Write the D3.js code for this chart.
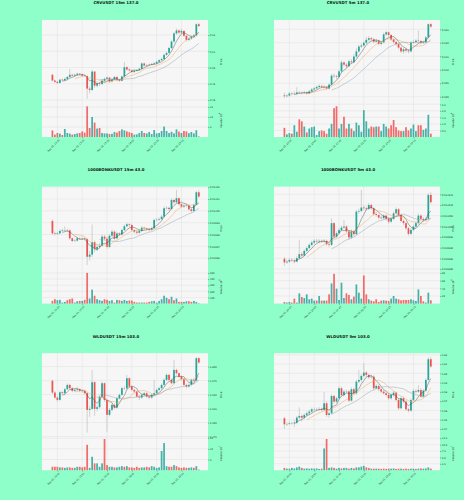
<!DOCTYPE html>
<html>
<head>
<meta charset="utf-8">
<script src="https://cdn.jsdelivr.net/npm/d3@7"></script>
<style>
  body { margin: 0; background: #8effc8; }
  text { font-family: "DejaVu Sans", sans-serif; }
</style>
</head>
<body>
<svg id="chart" width="464" height="500"></svg>
<script>
// ---- data ----
const xTickIdx = [2, 12, 22, 32, 42, 52];
const xLabels15m = ['Dec 03, 10:30', 'Dec 03, 13:00', 'Dec 03, 15:30', 'Dec 03, 18:00', 'Dec 03, 20:30', 'Dec 03, 23:00'];
const xLabels5m = ['Dec 03, 20:00', 'Dec 03, 20:50', 'Dec 03, 21:40', 'Dec 03, 22:30', 'Dec 03, 23:20', 'Dec 04, 00:10'];
const maPeriods = [5, 10, 20];

// CRVUSDT 15m
const crv15Open0 = 0.4955;
const crv15Close = [0.4920,0.4912,0.4905,0.4925,0.4922,0.4930,0.4942,0.4955,0.4950,0.4955,
  0.4962,0.4958,0.4950,0.4948,0.4870,0.4862,0.4975,0.4888,0.4902,0.4898,
  0.4918,0.4930,0.4938,0.4915,0.4925,0.4942,0.4925,0.4918,0.4945,0.5002,
  0.4988,0.4982,0.4972,0.4980,0.4985,0.4992,0.5025,0.5012,0.5015,0.5018,
  0.5022,0.5026,0.5035,0.5045,0.5052,0.5078,0.5090,0.5120,0.5160,0.5210,
  0.5228,0.5215,0.5225,0.5195,0.5170,0.5178,0.5190,0.5198,0.5266,0.5255];
const crv15High = [0.4962,0.4925,0.4918,0.4930,0.4932,0.4938,0.4948,0.4992,0.4962,0.4962,
  0.4968,0.4966,0.4962,0.4956,0.4952,0.4885,0.4985,0.4978,0.4915,0.4910,
  0.4925,0.4938,0.4945,0.4942,0.4932,0.4948,0.4946,0.4930,0.4950,0.5035,
  0.5008,0.4995,0.4988,0.4986,0.4992,0.4998,0.5032,0.5030,0.5022,0.5024,
  0.5028,0.5032,0.5042,0.5052,0.5060,0.5085,0.5098,0.5128,0.5168,0.5218,
  0.5240,0.5235,0.5238,0.5230,0.5200,0.5188,0.5196,0.5206,0.5272,0.5275];
const crv15Low = [0.4915,0.4905,0.4900,0.4902,0.4915,0.4918,0.4926,0.4938,0.4945,0.4945,
  0.4950,0.4952,0.4944,0.4942,0.4808,0.4840,0.4855,0.4875,0.4878,0.4885,
  0.4892,0.4912,0.4925,0.4908,0.4910,0.4920,0.4918,0.4912,0.4915,0.4940,
  0.4980,0.4975,0.4965,0.4968,0.4975,0.4980,0.4988,0.5005,0.5006,0.5010,
  0.5012,0.5016,0.5020,0.5030,0.5040,0.5048,0.5072,0.5085,0.5115,0.5152,
  0.5202,0.5205,0.5208,0.5188,0.5160,0.5162,0.5170,0.5182,0.5192,0.5250];
const crv15Vol = [3.3,1.2,2.0,1.7,1.0,4.0,2.0,1.7,1.2,1.5,
  1.8,2.0,2.8,2.2,15.3,4.5,10.0,7.2,4.2,4.5,
  2.0,1.8,1.8,1.5,1.6,2.5,2.2,3.0,3.8,3.3,
  2.8,2.4,2.0,1.2,1.3,2.0,3.0,2.0,1.8,2.5,
  1.5,3.5,1.8,2.0,3.0,5.2,3.0,2.0,2.6,1.8,
  3.8,2.7,2.0,3.0,2.8,1.9,2.5,1.8,3.4,0.3];

// CRVUSDT 5m
const crv5Open0 = 0.5005;
const crv5Close = [0.5002,0.5004,0.5012,0.5010,0.5011,0.5016,0.5015,0.5014,0.5016,0.5012,
  0.5020,0.5027,0.5031,0.5036,0.5040,0.5037,0.5035,0.5030,0.5045,0.5078,
  0.5076,0.5074,0.5094,0.5127,0.5119,0.5113,0.5131,0.5128,0.5149,0.5168,
  0.5186,0.5190,0.5200,0.5211,0.5217,0.5213,0.5204,0.5208,0.5196,0.5201,
  0.5231,0.5239,0.5229,0.5212,0.5203,0.5195,0.5182,0.5168,0.5176,0.5171,
  0.5168,0.5201,0.5203,0.5208,0.5206,0.5200,0.5202,0.5220,0.5269,0.5260];
const crv5High = [0.5015,0.5010,0.5018,0.5016,0.5020,0.5035,0.5022,0.5020,0.5022,0.5020,
  0.5026,0.5032,0.5036,0.5042,0.5046,0.5045,0.5042,0.5040,0.5050,0.5085,
  0.5086,0.5082,0.5100,0.5135,0.5132,0.5125,0.5138,0.5140,0.5158,0.5180,
  0.5192,0.5198,0.5206,0.5222,0.5225,0.5222,0.5218,0.5214,0.5212,0.5206,
  0.5238,0.5244,0.5242,0.5232,0.5216,0.5208,0.5198,0.5186,0.5182,0.5182,
  0.5176,0.5206,0.5210,0.5214,0.5245,0.5210,0.5208,0.5226,0.5272,0.5274];
const crv5Low = [0.4995,0.4998,0.5000,0.5005,0.5006,0.5008,0.5010,0.5008,0.5010,0.5008,
  0.5010,0.5016,0.5024,0.5028,0.5032,0.5032,0.5030,0.5026,0.5027,0.5042,
  0.5070,0.5066,0.5070,0.5090,0.5112,0.5106,0.5110,0.5122,0.5124,0.5144,
  0.5162,0.5180,0.5185,0.5195,0.5206,0.5206,0.5198,0.5200,0.5190,0.5190,
  0.5198,0.5226,0.5222,0.5206,0.5196,0.5188,0.5176,0.5162,0.5160,0.5164,
  0.5160,0.5164,0.5196,0.5198,0.5200,0.5194,0.5196,0.5198,0.5216,0.5255];
const crv5Vol = [0.7,0.2,0.3,0.25,0.9,0.4,1.35,1.2,0.8,0.35,
  0.65,0.75,0.8,0.15,0.45,0.5,0.45,0.25,0.65,1.0,
  2.2,2.35,0.65,1.0,1.55,0.65,1.0,0.65,0.45,1.1,
  0.9,0.4,2.05,1.2,0.65,0.8,0.75,0.8,0.8,0.45,
  1.0,0.8,0.65,0.9,1.3,0.75,0.5,0.45,0.45,0.75,
  0.5,0.65,0.95,0.45,0.9,0.9,0.55,0.65,1.7,0.25];

// 1000BONKUSDT 15m
const bonk15Open0 = 0.0109914;
const bonk15Close = [0.0109810,0.0109805,0.0109810,0.0109830,0.0109835,0.0109838,0.0109835,0.0109768,0.0109745,0.0109748,
  0.0109768,0.0109765,0.0109768,0.0109762,0.0109612,0.0109630,0.0109735,0.0109675,0.0109695,0.0109705,
  0.0109782,0.0109765,0.0109695,0.0109790,0.0109824,0.0109768,0.0109810,0.0109800,0.0109838,0.0109870,
  0.0109886,0.0109880,0.0109838,0.0109824,0.0109815,0.0109830,0.0109858,0.0109852,0.0109845,0.0109838,
  0.0109852,0.0109923,0.0109925,0.0109930,0.0109951,0.0110022,0.0110025,0.0110015,0.0110092,0.0110073,
  0.0110107,0.0110056,0.0110036,0.0110044,0.0110044,0.0110013,0.0109999,0.0110050,0.0110157,0.0110121];
const bonk15High = [0.0109930,0.0109825,0.0109825,0.0109845,0.0109850,0.0109870,0.0109850,0.0109845,0.0109775,0.0109760,
  0.0109780,0.0109778,0.0109780,0.0109775,0.0109770,0.0109660,0.0109886,0.0109750,0.0109720,0.0109730,
  0.0109800,0.0109795,0.0109780,0.0109805,0.0109840,0.0109835,0.0109825,0.0109820,0.0109850,0.0109885,
  0.0109900,0.0109895,0.0109890,0.0109845,0.0109835,0.0109845,0.0109870,0.0109865,0.0109860,0.0109855,
  0.0109865,0.0109935,0.0109940,0.0109945,0.0109970,0.0110035,0.0110040,0.0110035,0.0110105,0.0110100,
  0.0110177,0.0110115,0.0110065,0.0110055,0.0110060,0.0110055,0.0110025,0.0110065,0.0110170,0.0110175];
const bonk15Low = [0.0109795,0.0109790,0.0109795,0.0109800,0.0109820,0.0109825,0.0109820,0.0109755,0.0109735,0.0109735,
  0.0109740,0.0109755,0.0109755,0.0109750,0.0109542,0.0109580,0.0109610,0.0109650,0.0109660,0.0109680,
  0.0109695,0.0109750,0.0109680,0.0109685,0.0109780,0.0109755,0.0109760,0.0109785,0.0109790,0.0109830,
  0.0109860,0.0109865,0.0109825,0.0109810,0.0109800,0.0109805,0.0109820,0.0109840,0.0109835,0.0109825,
  0.0109830,0.0109845,0.0109910,0.0109915,0.0109920,0.0109945,0.0110010,0.0110000,0.0110010,0.0110060,
  0.0110065,0.0110045,0.0110025,0.0110025,0.0110030,0.0110000,0.0109985,0.0109990,0.0110045,0.0110110];
const bonk15Vol = [44,72,56,61,17,28,56,72,83,17,
  39,44,44,61,500,83,228,128,72,56,
  44,72,61,44,56,17,61,56,44,61,
  44,50,50,28,17,17,17,17,17,28,
  39,44,17,44,72,128,94,72,111,56,
  83,28,28,28,39,39,28,44,28,6];

// 1000BONKUSDT 5m
const bonk5Open0 = 0.0109848;
const bonk5Close = [0.0109831,0.0109835,0.0109843,0.0109840,0.0109835,0.0109851,0.0109870,0.0109863,0.0109885,0.0109898,
  0.0109913,0.0109924,0.0109932,0.0109929,0.0109932,0.0109929,0.0109932,0.0109916,0.0109913,0.0110015,
  0.0109952,0.0109968,0.0109983,0.0109994,0.0109999,0.0109976,0.0109948,0.0109976,0.0109963,0.0110069,
  0.0110072,0.0110088,0.0110085,0.0110082,0.0110100,0.0110085,0.0110057,0.0110053,0.0110041,0.0110038,
  0.0110050,0.0110035,0.0110022,0.0110035,0.0110061,0.0110080,0.0110053,0.0110025,0.0110015,0.0109991,
  0.0109965,0.0109983,0.0109999,0.0110015,0.0110050,0.0110035,0.0110030,0.0110035,0.0110147,0.0110113];
const bonk5High = [0.0109856,0.0109843,0.0109850,0.0109851,0.0109848,0.0109860,0.0109937,0.0109880,0.0109893,0.0109906,
  0.0109921,0.0109933,0.0109940,0.0109941,0.0109940,0.0109939,0.0109940,0.0109938,0.0109923,0.0110038,
  0.0110020,0.0109976,0.0109992,0.0110003,0.0110030,0.0110006,0.0109982,0.0109985,0.0109983,0.0110078,
  0.0110083,0.0110170,0.0110097,0.0110094,0.0110110,0.0110106,0.0110090,0.0110064,0.0110060,0.0110049,
  0.0110058,0.0110056,0.0110042,0.0110044,0.0110070,0.0110089,0.0110086,0.0110060,0.0110033,0.0110021,
  0.0109998,0.0109991,0.0110008,0.0110024,0.0110059,0.0110057,0.0110043,0.0110044,0.0110156,0.0110160];
const bonk5Low = [0.0109815,0.0109824,0.0109828,0.0109832,0.0109826,0.0109830,0.0109845,0.0109854,0.0109859,0.0109878,
  0.0109892,0.0109906,0.0109918,0.0109922,0.0109921,0.0109922,0.0109923,0.0109909,0.0109902,0.0109908,
  0.0109945,0.0109946,0.0109962,0.0109976,0.0109988,0.0109969,0.0109937,0.0109940,0.0109954,0.0109958,
  0.0110060,0.0110065,0.0110076,0.0110073,0.0110076,0.0110077,0.0110050,0.0110045,0.0110033,0.0110029,
  0.0110031,0.0110027,0.0110012,0.0110015,0.0110029,0.0110054,0.0110046,0.0110018,0.0110006,0.0109982,
  0.0109956,0.0109958,0.0109976,0.0109992,0.0110008,0.0110026,0.0110021,0.0110022,0.0110029,0.0110105];
const bonk5Vol = [4.3,2.6,4.3,2.6,13,2.6,26.8,17.3,14.7,24.2,
  11.3,13,7.8,7.8,19.9,7.8,7.8,7.8,24.2,52.8,
  77.9,39,9.5,54.6,14.7,26.8,22.5,11.3,18.2,50.2,
  28.6,13,73.6,24.2,11.3,7.8,6.1,11.3,4.3,7.8,
  8.7,7.8,6.9,13,19.9,13,11.3,8.7,9.5,9.5,
  9.5,11.3,8.7,6.9,37.2,19.9,6.1,2.6,28.6,8.7];

// WLDUSDT 15m
const wld15Open0 = 2.5745;
const wld15Close = [2.5536,2.5447,2.5405,2.5542,2.5525,2.5596,2.5673,2.5614,2.5566,2.5584,
  2.5596,2.5566,2.5560,2.5525,2.5227,2.5245,2.5721,2.5245,2.5275,2.5465,
  2.5703,2.5405,2.5138,2.5227,2.5316,2.5269,2.5435,2.5495,2.5614,2.5610,
  2.5792,2.5643,2.5584,2.5554,2.5465,2.5447,2.5495,2.5525,2.5465,2.5447,
  2.5495,2.5525,2.5584,2.5614,2.5673,2.5763,2.5852,2.5763,2.5703,2.5941,
  2.5882,2.5822,2.5774,2.5673,2.5643,2.5673,2.5763,2.5750,2.6149,2.6072];
const wld15High = [2.5770,2.5560,2.5470,2.5570,2.5565,2.5620,2.5700,2.5690,2.5640,2.5610,
  2.5640,2.5615,2.5590,2.5580,2.5545,2.5290,2.5941,2.5740,2.5310,2.5490,
  2.5730,2.5720,2.5430,2.5260,2.5340,2.5345,2.5460,2.5520,2.5640,2.5650,
  2.5852,2.5810,2.5665,2.5605,2.5575,2.5490,2.5520,2.5550,2.5545,2.5490,
  2.5520,2.5763,2.5610,2.5640,2.5700,2.5790,2.5880,2.5870,2.5790,2.6120,
  2.5960,2.5900,2.5840,2.5795,2.5700,2.5700,2.5790,2.5800,2.6170,2.6170];
const wld15Low = [2.5510,2.5420,2.5370,2.5390,2.5500,2.5510,2.5580,2.5590,2.5540,2.5545,
  2.5560,2.5540,2.5535,2.5500,2.4822,2.5100,2.5220,2.5120,2.5200,2.5250,
  2.5440,2.5370,2.4840,2.5110,2.5200,2.5240,2.5250,2.5410,2.5480,2.5580,
  2.5590,2.5620,2.5560,2.5530,2.5440,2.5400,2.5420,2.5470,2.5440,2.5420,
  2.5425,2.5470,2.5500,2.5560,2.5590,2.5650,2.5740,2.5740,2.5680,2.5690,
  2.5860,2.5800,2.5750,2.5650,2.5610,2.5620,2.5650,2.5725,2.5730,2.6050];
const wld15Vol = [1.6,1.6,1.6,1.3,1.3,1.1,1.3,1.3,1.1,1.1,
  1.6,1.6,1.3,1.6,11.9,1.1,6.3,3.2,3.2,1.6,
  3.2,14.6,2.4,1.6,1.6,1.3,1.3,1.6,1.9,1.6,
  1.9,1.3,1.3,1.1,1.6,1.1,1.3,1.3,1.6,1.3,
  1.9,1.6,1.1,1.3,9.0,12.7,1.9,1.6,1.6,2.4,
  1.9,1.3,1.1,1.3,1.1,1.1,1.3,1.1,1.9,0.3];

// WLDUSDT 5m
const wld5Open0 = 2.5515;
const wld5Close = [2.5450,2.5454,2.5461,2.5461,2.5468,2.5522,2.5540,2.5522,2.5551,2.5569,
  2.5587,2.5612,2.5612,2.5614,2.5616,2.5605,2.5677,2.5551,2.5569,2.5756,
  2.5695,2.5731,2.5839,2.5767,2.5803,2.5805,2.5706,2.5829,2.5785,2.5911,
  2.5929,2.5973,2.6009,2.5983,2.5958,2.5965,2.5839,2.5865,2.5829,2.5803,
  2.5785,2.5767,2.5731,2.5767,2.5792,2.5713,2.5623,2.5731,2.5695,2.5612,
  2.5598,2.5713,2.5810,2.5803,2.5821,2.5749,2.5814,2.5929,2.6153,2.6074];
const wld5High = [2.5530,2.5470,2.5480,2.5480,2.5500,2.5540,2.5634,2.5560,2.5570,2.5590,
  2.5610,2.5630,2.5630,2.5630,2.5635,2.5630,2.5800,2.5700,2.5590,2.5775,
  2.5770,2.5750,2.5860,2.5855,2.5820,2.5825,2.5820,2.5850,2.5845,2.5930,
  2.6038,2.5990,2.6110,2.6025,2.6000,2.5985,2.5980,2.5885,2.5880,2.5845,
  2.5820,2.5800,2.5785,2.5785,2.5810,2.5805,2.5730,2.5750,2.5750,2.5710,
  2.5630,2.5730,2.5830,2.5830,2.5870,2.5840,2.5830,2.5950,2.6175,2.6175];
const wld5Low = [2.5400,2.5430,2.5440,2.5445,2.5420,2.5450,2.5505,2.5480,2.5505,2.5535,
  2.5550,2.5575,2.5595,2.5598,2.5600,2.5590,2.5590,2.5530,2.5520,2.5555,
  2.5675,2.5680,2.5720,2.5750,2.5750,2.5785,2.5690,2.5695,2.5770,2.5770,
  2.5895,2.5910,2.5960,2.5965,2.5940,2.5945,2.5820,2.5825,2.5810,2.5785,
  2.5770,2.5750,2.5715,2.5715,2.5750,2.5695,2.5605,2.5610,2.5680,2.5595,
  2.5580,2.5585,2.5700,2.5785,2.5790,2.5735,2.5735,2.5800,2.5915,2.6060];
const wld5Vol = [0.9,0.6,0.6,0.9,0.7,1.1,1.4,0.9,0.6,0.7,
  0.6,0.7,0.6,0.7,0.5,0.6,8.5,12.2,0.9,1.1,
  0.9,0.6,0.9,0.7,0.9,0.9,0.6,0.9,0.7,1.1,
  1.1,1.4,1.7,1.1,0.9,0.6,0.6,0.6,0.6,0.5,
  0.6,0.5,0.6,0.6,0.7,0.5,0.6,0.6,0.5,0.6,
  0.5,0.6,0.6,0.5,0.6,0.7,0.6,0.7,1.1,0.6];

// panel setup (axes limits / ticks as shown in the reference)
const panels = [
  { title: 'CRVUSDT 15m 137.0', col: 0, row: 0, open0: crv15Open0, close: crv15Close, high: crv15High, low: crv15Low, vol: crv15Vol,
    yDomain: [0.47785, 0.52923], yTicks: [0.48, 0.49, 0.50, 0.51, 0.52], yFmt: '.2f',
    vDomain: [0, 16.75], vTicks: [5, 10, 15], vFmt: 'd', vExp: '6', xLabels: xLabels15m },
  { title: 'CRVUSDT 5m 137.0', col: 1, row: 0, open0: crv5Open0, close: crv5Close, high: crv5High, low: crv5Low, vol: crv5Vol,
    yDomain: [0.49748, 0.52845], yTicks: [0.500, 0.505, 0.510, 0.515, 0.520, 0.525], yFmt: '.3f',
    vDomain: [0, 2.56], vTicks: [0.5, 1.0, 1.5, 2.0, 2.5], vFmt: '.1f', vExp: '6', xLabels: xLabels5m },
  { title: '1000BONKUSDT 15m 43.0', col: 0, row: 1, open0: bonk15Open0, close: bonk15Close, high: bonk15High, low: bonk15Low, vol: bonk15Vol,
    yDomain: [0.0109499, 0.0110205], yTicks: [0.01096, 0.01097, 0.01098, 0.01099, 0.01100, 0.01101, 0.01102], yFmt: '.5f',
    vDomain: [0, 546], vTicks: [100, 200, 300, 400, 500], vFmt: 'd', vExp: '6', xLabels: xLabels15m },
  { title: '1000BONKUSDT 5m 43.0', col: 1, row: 1, open0: bonk5Open0, close: bonk5Close, high: bonk5High, low: bonk5Low, vol: bonk5Vol,
    yDomain: [0.0109795, 0.0110186], yTicks: [0.010980, 0.010985, 0.010990, 0.010995, 0.011000, 0.011005, 0.011010, 0.011015], yFmt: '.6f',
    vDomain: [0, 87.6], vTicks: [20, 40, 60, 80], vFmt: 'd', vExp: '6', xLabels: xLabels5m },
  { title: 'WLDUSDT 15m 103.0', col: 0, row: 2, open0: wld15Open0, close: wld15Close, high: wld15High, low: wld15Low, vol: wld15Vol,
    yDomain: [2.4748, 2.6239], yTicks: [2.475, 2.500, 2.525, 2.550, 2.575, 2.600], yFmt: '.3f',
    vDomain: [0, 15.7], vTicks: [5, 10, 15], vFmt: 'd', vExp: '5', xLabels: xLabels15m },
  { title: 'WLDUSDT 5m 103.0', col: 1, row: 2, open0: wld5Open0, close: wld5Close, high: wld5High, low: wld5Low, vol: wld5Vol,
    yDomain: [2.5316, 2.6218], yTicks: [2.54, 2.55, 2.56, 2.57, 2.58, 2.59, 2.60, 2.61, 2.62], yFmt: '.2f',
    vDomain: [0, 13.1], vTicks: [2.5, 5.0, 7.5, 10.0, 12.5], vFmt: '.1f', vExp: '5', xLabels: xLabels5m }
];

const upColor = '#26a69a', downColor = '#ef5350';
const maColors = ['#4d4d4d', '#f0a050', '#8c9ca8'];

const svg = d3.select('#chart');
const cellW = 232, cellH = 166.6;
const L = 42, R = 208, T = 20, M = 103.5, B = 137;

function sma(vals, n) {
  return vals.map((v, i) => i < n - 1 ? null : d3.mean(vals.slice(i - n + 1, i + 1)));
}

function styleAxis(sel) {
  sel.select('.domain').remove();
  sel.selectAll('line').attr('stroke', '#444').attr('stroke-width', 0.4);
  sel.selectAll('text').attr('font-size', '2.3px').attr('fill', '#222');
}

panels.forEach(p => {
  const g = svg.append('g').attr('transform', `translate(${p.col * cellW},${p.row * cellH})`);
  const opens = p.close.map((c, i) => i === 0 ? p.open0 : p.close[i - 1]);
  const rows = p.close.map((c, i) => ({ i, o: opens[i], h: p.high[i], l: p.low[i], c, v: p.vol[i] }));

  const x = d3.scaleLinear().domain([-4.2, 62.7]).range([L, R]);
  const y = d3.scaleLinear().domain(p.yDomain).range([M, T]);
  const yv = d3.scaleLinear().domain(p.vDomain).range([B, M]);
  const bw = (x(1) - x(0)) * 0.7;

  g.append('text').attr('x', 116).attr('y', 4.4).attr('text-anchor', 'middle')
    .attr('font-size', '3.9px').attr('font-weight', 'bold').attr('fill', '#111').text(p.title);

  g.append('rect').attr('x', L).attr('y', T).attr('width', R - L).attr('height', B - T).attr('fill', '#f6f6f6');

  // grid
  const grid = g.append('g').attr('stroke', '#dcdcdc').attr('stroke-width', 0.4);
  p.yTicks.forEach(t => grid.append('line').attr('x1', L).attr('x2', R).attr('y1', y(t)).attr('y2', y(t)));
  p.vTicks.forEach(t => grid.append('line').attr('x1', L).attr('x2', R).attr('y1', yv(t)).attr('y2', yv(t)));
  xTickIdx.forEach(t => grid.append('line').attr('x1', x(t)).attr('x2', x(t)).attr('y1', T).attr('y2', B));

  // candles
  const cg = g.append('g');
  cg.selectAll('line.wick').data(rows).join('line')
    .attr('x1', d => x(d.i)).attr('x2', d => x(d.i))
    .attr('y1', d => y(d.h)).attr('y2', d => y(d.l))
    .attr('stroke', '#9a9a9a').attr('stroke-width', 0.4);
  cg.selectAll('rect.body').data(rows).join('rect')
    .attr('x', d => x(d.i) - bw / 2).attr('width', bw)
    .attr('y', d => y(Math.max(d.o, d.c)))
    .attr('height', d => Math.max(0.3, Math.abs(y(d.o) - y(d.c))))
    .attr('fill', d => d.c >= d.o ? upColor : downColor);

  // moving averages
  maPeriods.forEach((n, k) => {
    const ma = sma(p.close, n);
    g.append('path').datum(ma.map((v, i) => [i, v]).filter(d => d[1] !== null))
      .attr('fill', 'none').attr('stroke', maColors[k]).attr('stroke-width', 0.45)
      .attr('d', d3.line().x(d => x(d[0])).y(d => y(d[1])));
  });

  // volume
  g.append('g').selectAll('rect').data(rows).join('rect')
    .attr('x', d => x(d.i) - bw / 2).attr('width', bw)
    .attr('y', d => yv(d.v)).attr('height', d => B - yv(d.v))
    .attr('fill', d => d.c >= d.o ? upColor : downColor).attr('opacity', 0.85);

  // axes
  g.append('g').attr('transform', `translate(${R},0)`)
    .call(d3.axisRight(y).tickValues(p.yTicks).tickFormat(d3.format(p.yFmt)).tickSize(1.3).tickPadding(0.8))
    .call(styleAxis);
  g.append('g').attr('transform', `translate(${R},0)`)
    .call(d3.axisRight(yv).tickValues(p.vTicks).tickFormat(d3.format(p.vFmt)).tickSize(1.3).tickPadding(0.8))
    .call(styleAxis);
  const xa = g.append('g').attr('transform', `translate(0,${B})`)
    .call(d3.axisBottom(x).tickValues(xTickIdx).tickFormat((d, i) => p.xLabels[i]).tickSize(1.3).tickPadding(0.8))
    .call(styleAxis);
  xa.selectAll('text').attr('text-anchor', 'end').attr('dy', '0.3em')
    .attr('transform', 'translate(0,1.5) rotate(-45)');

  g.append('text').attr('transform', `translate(221.5,${(T + M) / 2}) rotate(-90)`)
    .attr('text-anchor', 'middle').attr('font-size', '2.6px').attr('fill', '#222').text('Price');
  const vl = g.append('text').attr('transform', `translate(221.5,${(M + B) / 2}) rotate(-90)`)
    .attr('text-anchor', 'middle').attr('font-size', '2.6px').attr('fill', '#222');
  vl.append('tspan').text('Volume  10');
  vl.append('tspan').attr('dy', '-0.6em').attr('font-size', '1.8px').text(p.vExp);
});
</script>
</body>
</html>
